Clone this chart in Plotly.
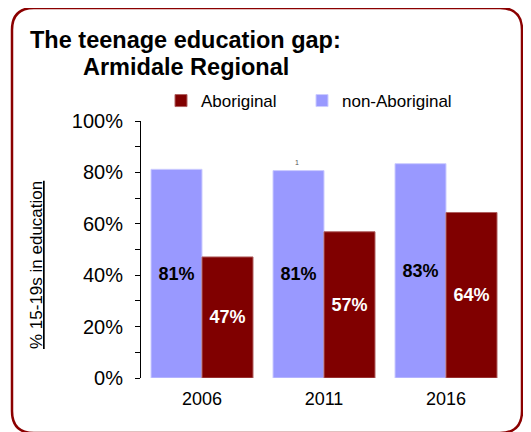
import plotly.graph_objects as go

years = ["2006", "2011", "2016"]
non_aboriginal = [0.812, 0.807, 0.834]
aboriginal = [0.471, 0.569, 0.644]
y_ticks = [0, 0.2, 0.4, 0.6, 0.8, 1.0]

OFF = 8  # browser body margin
W, H = 531 - OFF, 432 - OFF
L, R, T, B = 141, 507, 121, 378  # plot area, screen pixels


def px(x):
    return (x - L) / (R - L)


def py(y):
    return (B - y) / (B - T)


def rounded_box(x0, y0, x1, y1, r):
    # rounded rectangle path in paper coords
    pts = [
        f"M{px(x0 + r)},{py(y0)}",
        f"L{px(x1 - r)},{py(y0)}",
        f"Q{px(x1)},{py(y0)} {px(x1)},{py(y0 + r)}",
        f"L{px(x1)},{py(y1 - r)}",
        f"Q{px(x1)},{py(y1)} {px(x1 - r)},{py(y1)}",
        f"L{px(x0 + r)},{py(y1)}",
        f"Q{px(x0)},{py(y1)} {px(x0)},{py(y1 - r)}",
        f"L{px(x0)},{py(y0 + r)}",
        f"Q{px(x0)},{py(y0)} {px(x0 + r)},{py(y0)}",
        "Z",
    ]
    return " ".join(pts)


FONT = "Liberation Sans, Arial, sans-serif"
legend_style = {
    "orientation": "h", "y": py(101), "xanchor": "left", "yanchor": "middle",
    "font": {"family": FONT, "size": 17, "color": "black"},
    "itemwidth": 30, "bgcolor": "rgba(0,0,0,0)",
}

fig = go.Figure()

fig.add_trace(go.Bar(
    x=years, y=non_aboriginal, name="non-Aboriginal", legend="legend2",
    marker={"color": "#9999FF", "line": {"color": "#CCCCFF", "width": 1}},
    texttemplate="%{y:.0%}", textposition="inside", insidetextanchor="middle",
    textangle=0, constraintext="none",
    textfont={"family": FONT, "size": 18, "color": "black", "weight": "bold"},
))
fig.add_trace(go.Bar(
    x=years, y=aboriginal, name="Aboriginal", legend="legend",
    marker={"color": "#800000", "line": {"color": "#B06060", "width": 1}},
    texttemplate="%{y:.0%}", textposition="inside", insidetextanchor="middle",
    textangle=0, constraintext="none",
    textfont={"family": FONT, "size": 18, "color": "white", "weight": "bold"},
))

fig.update_layout(
    width=W, height=H,
    margin={"l": L - OFF, "r": 531 - R, "t": T - OFF, "b": 432 - B, "pad": 0},
    paper_bgcolor="white", plot_bgcolor="white",
    barmode="group", bargap=0.164, bargroupgap=0,
    font={"family": FONT, "color": "black"},
    showlegend=True,
    legend={**legend_style, "x": px(161)},
    legend2={**legend_style, "x": px(302)},
    xaxis={
        "showline": False, "ticks": "", "showgrid": False,
        "tickfont": {"size": 18, "family": FONT}, "ticklabelstandoff": 8,
    },
    yaxis={
        "range": [0, 1], "tickvals": y_ticks, "tickformat": ".0%",
        "showline": True, "linecolor": "black", "linewidth": 1,
        "ticks": "outside", "ticklen": 5, "tickcolor": "black",
        "minor": {"dtick": 0.1, "ticks": "outside", "ticklen": 5, "tickcolor": "black"},
        "showgrid": False, "zeroline": False,
        "tickfont": {"size": 20, "family": FONT}, "ticklabelstandoff": 8,
    },
    shapes=[{
        "type": "path", "xref": "paper", "yref": "paper",
        "path": rounded_box(12, 8, 522, 433, 22),
        "line": {"color": "#8B0000", "width": 2.5},
    }],
    annotations=[
        {"text": "<b>The teenage education gap:</b>", "xref": "paper", "yref": "paper",
         "x": px(28), "y": py(40), "xanchor": "left", "yanchor": "middle",
         "showarrow": False, "font": {"size": 23.5, "family": FONT}},
        {"text": "<b>Armidale Regional</b>", "xref": "paper", "yref": "paper",
         "x": px(81), "y": py(67), "xanchor": "left", "yanchor": "middle",
         "showarrow": False, "font": {"size": 23.5, "family": FONT}},
        {"text": "<u>% 15-19s in education</u>", "xref": "paper", "yref": "paper",
         "x": px(36), "y": py(265), "xanchor": "center", "yanchor": "middle",
         "textangle": -90, "showarrow": False, "font": {"size": 17, "family": FONT}},
        {"text": "1", "xref": "paper", "yref": "paper",
         "x": px(297), "y": py(157), "showarrow": False,
         "font": {"size": 7, "family": FONT, "color": "#555555"}},
    ],
)

fig.write_html("out.html")
